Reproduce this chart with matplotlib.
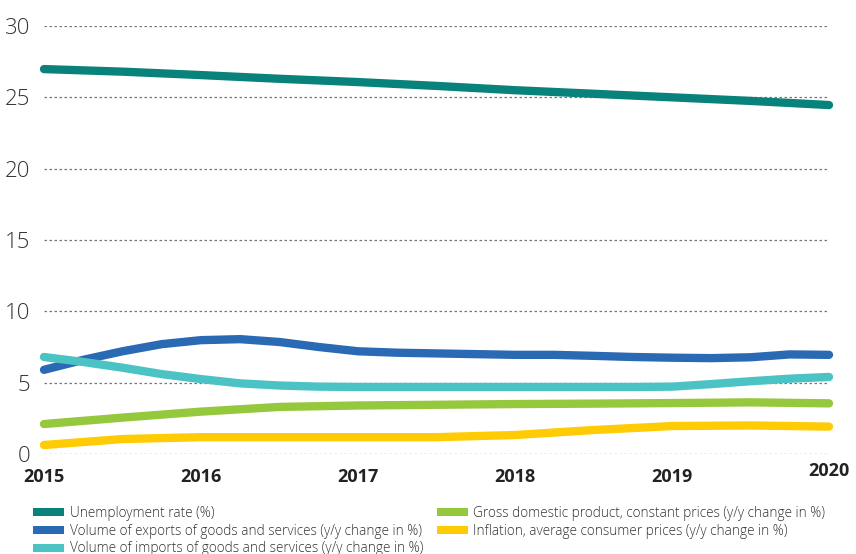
import matplotlib
matplotlib.use("Agg")
import matplotlib.pyplot as plt
from matplotlib.patches import Patch

# sample points (half-year / quarter steps)
years = [2015, 2015.5, 2016, 2016.5, 2017, 2017.5, 2018, 2018.5, 2019, 2019.5, 2020]
quarters = [2015, 2015.25, 2015.5, 2015.75, 2016, 2016.25, 2016.5, 2016.75,
            2017, 2017.25, 2017.5, 2017.75, 2018, 2018.25, 2018.5, 2018.75,
            2019, 2019.25, 2019.5, 2019.75, 2020]
unemployment = [26.98, 26.8, 26.56, 26.3, 26.07, 25.8, 25.5, 25.25, 25.0, 24.75, 24.46]
exports = [5.9, 6.6, 7.2, 7.7, 7.98, 8.05, 7.85, 7.5, 7.2, 7.1, 7.05, 7.0,
           6.95, 6.95, 6.88, 6.8, 6.75, 6.72, 6.78, 6.98, 6.95]
imports = [6.8, 6.45, 6.05, 5.6, 5.25, 4.95, 4.8, 4.72, 4.7, 4.7, 4.7, 4.7,
           4.7, 4.7, 4.7, 4.7, 4.72, 4.9, 5.1, 5.28, 5.4]
gdp = [2.1, 2.55, 2.97, 3.3, 3.4, 3.45, 3.5, 3.53, 3.57, 3.62, 3.55]
inflation = [0.63, 1.05, 1.18, 1.18, 1.18, 1.18, 1.33, 1.68, 1.96, 2.0, 1.92]

labels = [
    "Unemployment rate (%)",
    "Volume of exports of goods and services (y/y change in %)",
    "Volume of imports of goods and services (y/y change in %)",
    "Gross domestic product, constant prices (y/y change in %)",
    "Inflation, average consumer prices (y/y change in %)",
]
colors = ["#0a827c", "#2a69b4", "#4bc3c4", "#95c83d", "#ffcb05"]
series = [(years, unemployment), (quarters, exports), (quarters, imports),
          (years, gdp), (years, inflation)]

year_ticks = [2015, 2016, 2017, 2018, 2019]
y_ticks = [0, 5, 10, 15, 20, 25, 30]

fig = plt.figure(figsize=(8.56, 5.54), dpi=100)
ax = fig.add_axes([44 / 856, 1 - 454 / 554, (829 - 44) / 856, (454 - 26) / 554])

for (xs, vals), col in zip(series, colors):
    ax.plot(xs, vals, color=col, lw=6, solid_capstyle="round",
            solid_joinstyle="round", clip_on=False, zorder=3)

ax.set_xlim(2015, 2020)
ax.set_ylim(0, 30)
ax.set_yticks(y_ticks)
ax.set_yticklabels([str(v) for v in y_ticks], fontsize=16, color="#333333",
                   family="Open Sans", fontweight="light")
ax.set_xticks(year_ticks)
ax.set_xticklabels([str(y) for y in year_ticks], fontsize=13, fontweight="bold",
                   color="#222222", family="Open Sans")
ax.tick_params(axis="both", length=0)
ax.tick_params(axis="y", pad=10)
ax.tick_params(axis="x", pad=10)
ax.text(2020, -0.55, "2020", transform=ax.transData, ha="center", va="top",
        fontsize=13, fontweight="bold", color="#222222", family="Open Sans")

ax.grid(axis="y", linestyle=(0, (2, 2)), color="#777777", lw=0.9)
ax.grid(axis="x", visible=False)
for s in ax.spines.values():
    s.set_visible(False)

handles = [Patch(facecolor=c, edgecolor="none") for c in colors]
fig.legend(handles, labels, ncol=2, loc="upper left",
           bbox_to_anchor=(33 / 856, 1 - 506 / 554), frameon=False,
           prop={"family": "Open Sans", "size": 9.8, "weight": "light"},
           labelcolor="#333333", handlelength=2.3, handleheight=0.55,
           handletextpad=0.4, labelspacing=0.2, columnspacing=1.0,
           borderaxespad=0, borderpad=0)

fig.savefig("out.png", dpi=100)
